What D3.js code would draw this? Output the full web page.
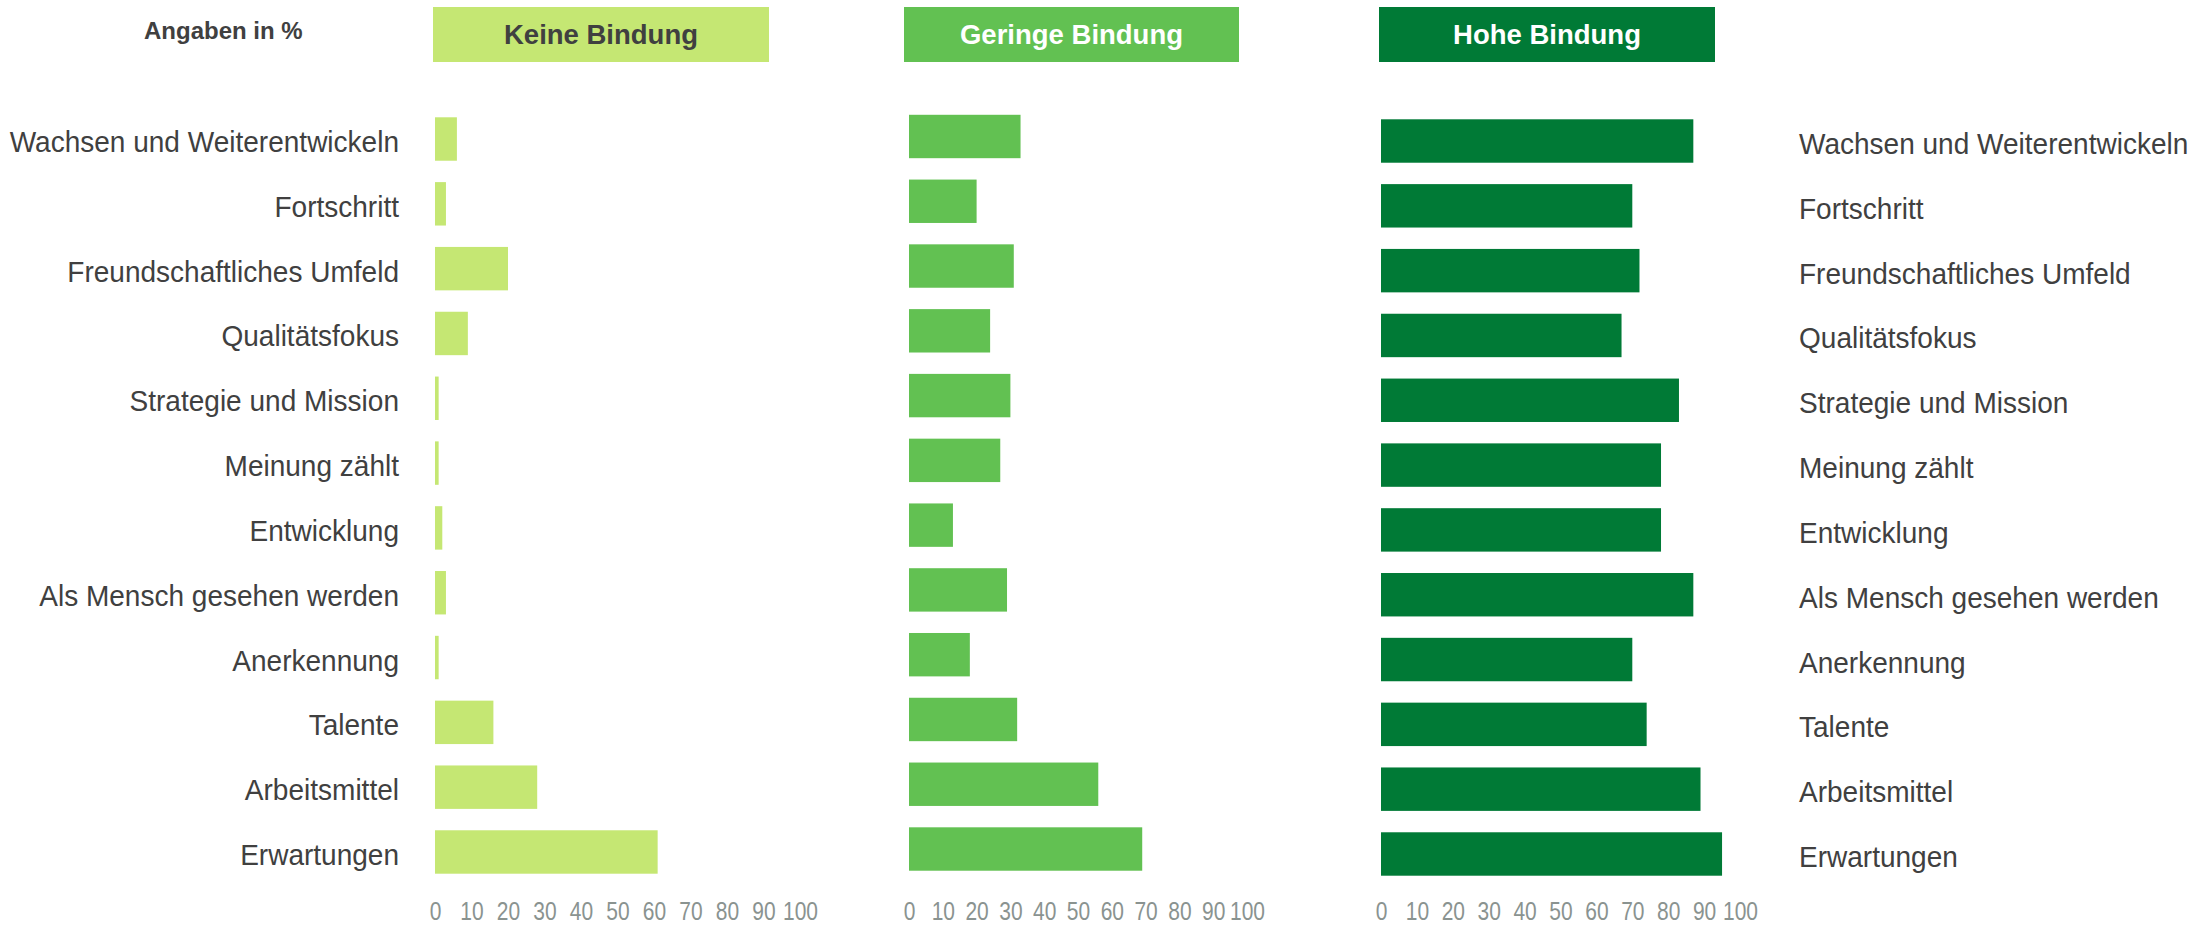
<!DOCTYPE html>
<html lang='de'>
<head>
  <meta charset="utf-8">
  <title>Bindung Balken</title>
  <script src='https://cdn.jsdelivr.net/npm/d3@7/dist/d3.min.js'></script>
  <style>
    body { margin: 0; background: #fff; }
    text { font-family: "Liberation Sans", Arial, sans-serif; }
  </style>
</head>
<body>
  <script>
    // categories (top to bottom)
    let categories = ["Wachsen und Weiterentwickeln", "Fortschritt", "Freundschaftliches Umfeld",
      "Qualitätsfokus", "Strategie und Mission", "Meinung zählt", "Entwicklung",
      "Als Mensch gesehen werden", "Anerkennung", "Talente", "Arbeitsmittel", "Erwartungen"];
    // values in %
    let keineBindung = [6, 3, 20, 9, 1, 1, 2, 3, 1, 16, 28, 61];
    let geringeBindung = [33, 20, 31, 24, 30, 27, 13, 29, 18, 32, 56, 69];
    let hoheBindung = [87, 70, 72, 67, 83, 78, 78, 87, 70, 74, 89, 95];
    let panelNames = ["Keine Bindung", "Geringe Bindung", "Hohe Bindung"];
    let tickValues = [0, 10, 20, 30, 40, 50, 60, 70, 80, 90, 100];

    let width = 2195, height = 927;
    let textColor = "#404040", tickColor = "#8a9390";

    // one small plot area per panel (Excel puts them slightly differently)
    let panels = [
      { name: panelNames[0], values: keineBindung, color: "#c5e773", textColor: textColor,
        x: [435, 800], y: [106.6, 884.4], box: [433, 769] },
      { name: panelNames[1], values: geringeBindung, color: "#62c152", textColor: "#fff",
        x: [909, 1247], y: [104.1, 881.4], box: [904, 1239] },
      { name: panelNames[2], values: hoheBindung, color: "#007a36", textColor: "#fff",
        x: [1381, 1740], y: [108.6, 886.4], box: [1379, 1715] }
    ];

    let svg = d3.select("body").append("svg")
      .attr("width", width)
      .attr("height", height);

    svg.append("text").text("Angaben in %")
      .attr("x", 144)
      .attr("y", 39)
      .attr("font-size", 24)
      .attr("font-weight", "bold")
      .attr("fill", textColor);

    panels.forEach((panel, p) => {
      let xScale = d3.scaleLinear().domain([0, 100]).range(panel.x);
      let yScale = d3.scaleBand().domain(categories).range(panel.y)
        .paddingInner(0.33).paddingOuter(0.165);

      // header box
      svg.append("rect")
        .attr("x", panel.box[0]).attr("y", 7)
        .attr("width", panel.box[1] - panel.box[0]).attr("height", 55)
        .attr("fill", panel.color);
      svg.append("text").text(panel.name)
        .attr("x", (panel.box[0] + panel.box[1]) / 2)
        .attr("y", 44)
        .attr("text-anchor", "middle")
        .attr("font-size", 27.5)
        .attr("font-weight", "bold")
        .attr("fill", panel.textColor);

      // bars
      svg.append("g").selectAll("rect").data(categories).join("rect")
        .attr("x", xScale(0))
        .attr("y", d => yScale(d))
        .attr("width", (d, i) => xScale(panel.values[i]) - xScale(0))
        .attr("height", yScale.bandwidth())
        .attr("fill", panel.color);

      // x axis, labels only (narrow looking digits like in the original)
      let xAxis = d3.axisBottom(xScale).tickValues(tickValues).tickSize(0).tickPadding(0);
      let xAxisG = svg.append("g")
        .attr("transform", `translate(0, 902)`)
        .call(xAxis);
      xAxisG.select(".domain").remove();
      xAxisG.selectAll("text")
        .attr("font-size", 25)
        .attr("font-family", "'Liberation Sans', Arial, sans-serif")
        .attr("fill", tickColor)
        .attr("dy", "0.71em")
        .attr("transform", "scale(0.84, 1)");

      // category labels: left of first panel, right of last panel
      if (p === 0 || p === 2) {
        svg.append("g").selectAll("text").data(categories).join("text")
          .text(d => d)
          .attr("transform", d => `translate(${p === 0 ? 399 : 1799}, ${yScale(d) + yScale.bandwidth() / 2 + 13}) scale(0.95, 1)`)
          .attr("text-anchor", p === 0 ? "end" : "start")
          .attr("font-size", 29.5)
          .attr("fill", textColor);
      }
    });
  </script>
</body>
</html>
